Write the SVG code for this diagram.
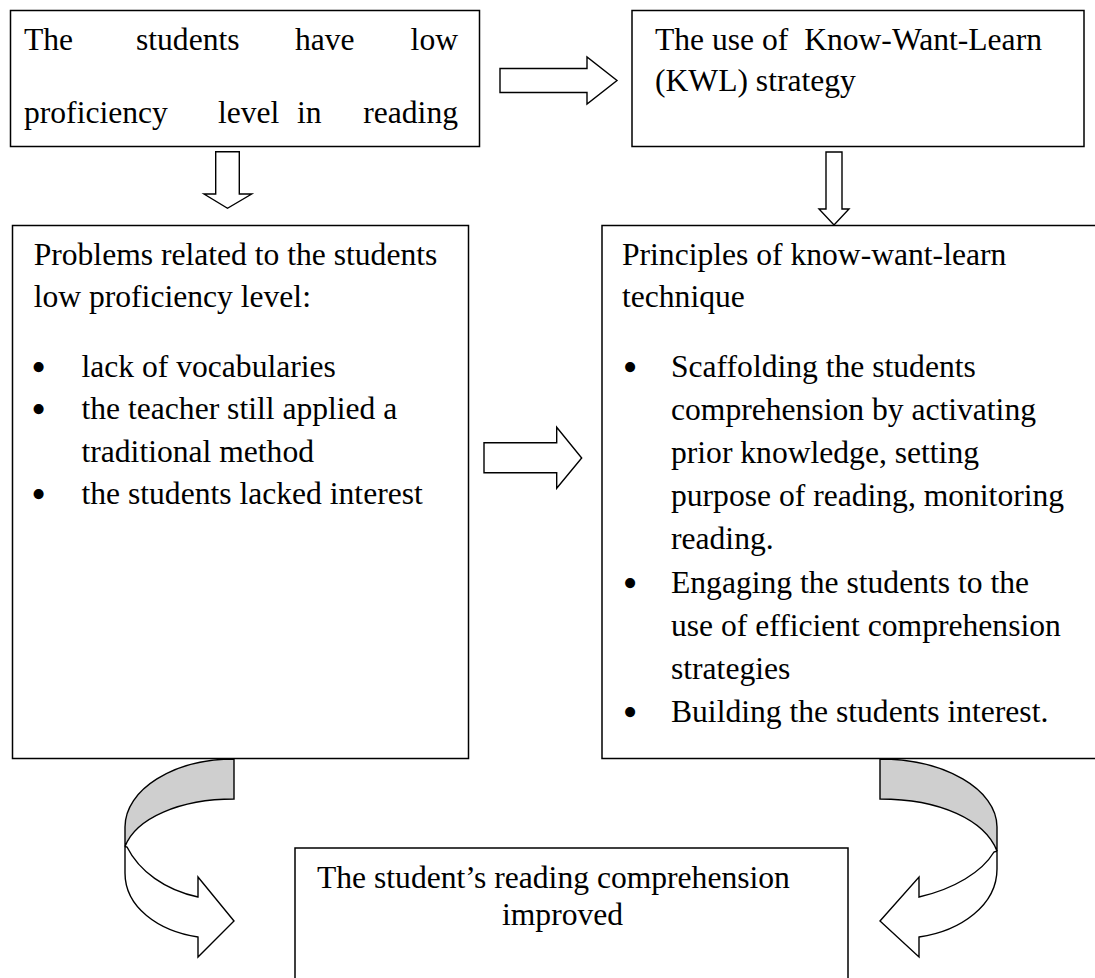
<svg xmlns="http://www.w3.org/2000/svg" width="1095" height="978" viewBox="0 0 1095 978">
  <style>
    .box { fill: #ffffff; stroke: #000000; stroke-width: 1.5; }
    .arrow { fill: #ffffff; stroke: #000000; stroke-width: 1.4; stroke-linejoin: miter; }
    .back { fill: #cfcfcf; stroke: #000000; stroke-width: 1.4; }
    text { font-family: "Liberation Serif", "Times New Roman", serif; font-size: 31.6px; fill: #000000; }
    .bullet { font-size: 42px; text-anchor: middle; }
    .end { text-anchor: end; }
  </style>

  <rect width="1095" height="978" fill="#ffffff"/>

  <!-- connectors: block arrows and curved ribbon arrows -->
  <g id="connectors">
    <path class="arrow" d="M500,68.5 H587 V57 L617,80.5 L587,104 V92.5 H500 Z"/>
    <path class="arrow" d="M215.7,151.7 H239.3 V194 H251.7 L227.5,208.3 L204,194 H215.7 Z"/>
    <path class="arrow" d="M826,152 H842 V209 H849 L834,225 L819,209 H826 Z"/>
    <path class="arrow" d="M484,442.7 H556.7 V427.3 L581.7,458 L556.7,488.3 V472.7 H484 Z"/>

    <!-- left curved arrow: back face (grey) then front face -->
    <path class="back" d="M234,759 C173.8,759 125,789.5 125,827 L125,846.5 C136,818 180,799 234,799 Z"/>
    <path class="arrow" d="M125,846.5 L125,873 C125,907 158,931 198,937 L198,957 L234,921 L198,877 L198,897 C165,890 139,871 127,847 Z"/>

    <!-- right curved arrow: back face (grey) then front face -->
    <path class="back" d="M880,759 C944.6,759 997,789.5 997,827 L997,851 C985,820 940,799 880,799 Z"/>
    <path class="arrow" d="M997,851 L997,869 C997,905 961,931 919,937 L919,957 L880,921 L919,877 L919,897 C954,889 982,872 994,852 Z"/>
  </g>

  <g id="node-low-proficiency">
    <rect class="box" x="10.5" y="10.5" width="469" height="136"/>
    <text x="24" y="50">The</text>
    <text x="136" y="50">students</text>
    <text x="295" y="50">have</text>
    <text class="end" x="458" y="50">low</text>
    <text x="24" y="123">proficiency</text>
    <text x="218" y="123">level</text>
    <text x="297" y="123">in</text>
    <text class="end" x="458" y="123">reading</text>
  </g>

  <g id="node-kwl-strategy">
    <rect class="box" x="632" y="10.5" width="452" height="136"/>
    <text x="655" y="49.5" xml:space="preserve">The use of  Know-Want-Learn</text>
    <text x="655" y="91">(KWL) strategy</text>
  </g>

  <g id="node-problems">
    <rect class="box" x="12.5" y="225.5" width="456" height="533"/>
    <text x="33.7" y="265">Problems related to the students</text>
    <text x="33.7" y="307">low proficiency level:</text>
    <text class="bullet" x="38.5" y="381">•</text>
    <text x="81.5" y="377">lack of vocabularies</text>
    <text class="bullet" x="38.5" y="423.4">•</text>
    <text x="81.5" y="419.4">the teacher still applied a</text>
    <text x="81.5" y="461.8">traditional method</text>
    <text class="bullet" x="38.5" y="508.2">•</text>
    <text x="81.5" y="504.2">the students lacked interest</text>
  </g>

  <g id="node-principles">
    <rect class="box" x="602" y="225.5" width="500" height="533"/>
    <text x="622" y="265">Principles of know-want-learn</text>
    <text x="622" y="307">technique</text>
    <text class="bullet" x="630" y="381">•</text>
    <text x="671" y="377">Scaffolding the students</text>
    <text x="671" y="420.1">comprehension by activating</text>
    <text x="671" y="463.2">prior knowledge, setting</text>
    <text x="671" y="506.3">purpose of reading, monitoring</text>
    <text x="671" y="549.4">reading.</text>
    <text class="bullet" x="630" y="596.5">•</text>
    <text x="671" y="592.5">Engaging the students to the</text>
    <text x="671" y="635.6">use of efficient comprehension</text>
    <text x="671" y="678.7">strategies</text>
    <text class="bullet" x="630" y="725.8">•</text>
    <text x="671" y="721.8">Building the students interest.</text>
  </g>

  <g id="node-improved">
    <rect class="box" x="295" y="848" width="553" height="140"/>
    <text x="317" y="888">The student’s reading comprehension</text>
    <text x="502" y="925">improved</text>
  </g>
</svg>
